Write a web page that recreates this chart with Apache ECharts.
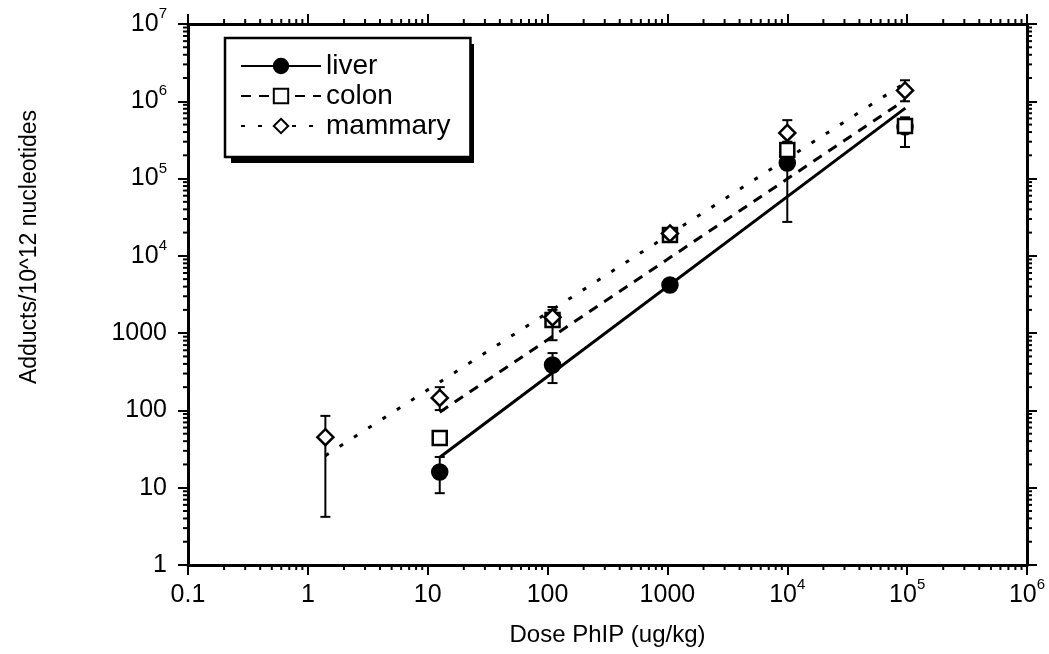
<!DOCTYPE html>
<html>
<head>
<meta charset="utf-8">
<script src="https://cdn.jsdelivr.net/npm/echarts@6/dist/echarts.min.js"></script>
<style>
  html, body { margin: 0; padding: 0; background: #fff; }
  #chart { width: 1049px; height: 654px; }
</style>
</head>
<body>
<div id="chart"></div>
<script>
// dose (ug/kg) and adducts per 10^12 nucleotides
const liverDose = [12.6, 110, 1050, 10000, 96000];
const liverValue = [16, 387, 4200, 159000, 466000];
const liverLow = [8.5, 226, 3800, 27500, 256000];
const liverHigh = [25, 552, 4600, 250000, 600000];

const colonDose = [12.6, 110, 1050, 10000, 96000];
const colonValue = [44, 1480, 18600, 234000, 480000];
const colonLow = [41, 810, 16000, 215000, 256000];
const colonHigh = [47, 2180, 21500, 255000, 620000];

const mammaryDose = [1.4, 12.6, 110, 1050, 10000, 96000];
const mammaryValue = [45, 145, 1600, 19500, 390000, 1380000];
const mammaryLow = [4.2, 101, 1300, 17000, 300000, 1000000];
const mammaryHigh = [85, 200, 2000, 22000, 570000, 1870000];

// fitted lines (end points)
const liverFitX = [12.7, 96600];
const liverFitY = [25, 815000];
const colonFitX = [12.6, 96600];
const colonFitY = [95, 1050000];
const mammaryFitX = [1.4, 96600];
const mammaryFitY = [26, 1740000];

// axis ranges and minor tick steps
const xRange = [0.1, 1e6];
const yRange = [1, 1e7];
const minorSteps = [2, 3, 4, 5, 6, 7, 8, 9];

const FONT = "'Liberation Sans', Arial, Helvetica, sans-serif";

function zip(xs, ys) {
  return xs.map((x, i) => [x, ys[i]]);
}
function zip3(xs, lo, hi) {
  return xs.map((x, i) => [x, lo[i], hi[i]]);
}

// minor ticks at 2..9 x 10^k for all four sides
const minorTickData = [];
for (let d = xRange[0]; d < xRange[1] * 0.99; d *= 10) {
  minorSteps.forEach(s => minorTickData.push([d * s, yRange[0], 0]));
}
for (let d = yRange[0]; d < yRange[1] * 0.99; d *= 10) {
  minorSteps.forEach(s => minorTickData.push([xRange[0], d * s, 1]));
}

function tickLabel(value) {
  const e = Math.round(Math.log10(value));
  if (e >= 4) return '{b|10}{s|' + e + '}';
  if (e < 0) return '{b|0.1}';
  return '{b|' + Math.pow(10, e) + '}';
}
const labelRich = {
  b: { fontSize: 25, lineHeight: 30, fontFamily: FONT, color: '#000' },
  s: { fontSize: 15, lineHeight: 30, fontFamily: FONT, color: '#000', padding: [0, 0, 20, 0] }
};

function minorTickItem(params, api) {
  const v0 = api.value(0), v1 = api.value(1), kind = api.value(2);
  const len = 5;
  const style = { stroke: '#000', lineWidth: 2 };
  if (kind === 0) {
    const b = api.coord([v0, yRange[0]]);
    const t = api.coord([v0, yRange[1]]);
    return { type: 'group', children: [
      { type: 'line', shape: { x1: b[0], y1: b[1], x2: b[0], y2: b[1] + len }, style },
      { type: 'line', shape: { x1: t[0], y1: t[1], x2: t[0], y2: t[1] - len }, style }
    ] };
  }
  const l = api.coord([xRange[0], v1]);
  const r = api.coord([xRange[1], v1]);
  return { type: 'group', children: [
    { type: 'line', shape: { x1: l[0], y1: l[1], x2: l[0] - len, y2: l[1] }, style },
    { type: 'line', shape: { x1: r[0], y1: r[1], x2: r[0] + len, y2: r[1] }, style }
  ] };
}

function errorBarItem(params, api) {
  const x = api.value(0);
  const lo = api.coord([x, api.value(1)]);
  const hi = api.coord([x, api.value(2)]);
  const w = 5;
  const style = { stroke: '#000', lineWidth: 2 };
  return { type: 'group', children: [
    { type: 'line', shape: { x1: lo[0], y1: lo[1], x2: hi[0], y2: hi[1] }, style },
    { type: 'line', shape: { x1: lo[0] - w, y1: lo[1], x2: lo[0] + w, y2: lo[1] }, style },
    { type: 'line', shape: { x1: hi[0] - w, y1: hi[1], x2: hi[0] + w, y2: hi[1] }, style }
  ] };
}

function errSeries(name, data) {
  return {
    name: name, type: 'custom', renderItem: errorBarItem, data: data,
    encode: { x: 0, y: [1, 2] }, z: 2, silent: true, clip: false
  };
}

function fitSeries(name, data, symbol, fill, dash) {
  return {
    name: name, type: 'line', data: data, z: 3,
    symbol: symbol, symbolSize: 14, showSymbol: false,
    lineStyle: { color: '#000', width: 3, type: dash },
    itemStyle: { color: fill, borderColor: '#000', borderWidth: 2.5 },
    silent: true
  };
}

function pointSeries(name, data, symbol, size, fill) {
  return {
    name: name, type: 'scatter', data: data, z: 4,
    symbol: symbol, symbolSize: size,
    itemStyle: { color: fill, borderColor: '#000', borderWidth: 2.5, opacity: 1 },
    silent: true
  };
}

const axisLineStyle = { lineStyle: { color: '#000', width: 3 } };
const axisTickStyle = { inside: false, length: 10, lineStyle: { color: '#000', width: 2 } };

const chartOpts = {
  animation: false,
  backgroundColor: '#fff',
  grid: { left: 188, right: 22, top: 24, bottom: 89 },
  legend: {
    data: ['liver', 'colon', 'mammary'],
    orient: 'vertical',
    left: 225, top: 38,
    itemWidth: 80, itemHeight: 18, itemGap: 2,
    padding: [14, 20, 17, 15],
    backgroundColor: '#fff',
    borderColor: '#000', borderWidth: 2.5,
    selectedMode: false,
    z: 6,
    textStyle: { fontSize: 28, color: '#000', fontFamily: FONT }
  },
  xAxis: [
    {
      type: 'log', logBase: 10, min: xRange[0], max: xRange[1], splitNumber: 7,
      name: 'Dose PhIP (ug/kg)', nameLocation: 'middle', nameGap: 58,
      nameTextStyle: { fontSize: 24, color: '#000', fontFamily: FONT },
      axisLine: axisLineStyle,
      axisTick: axisTickStyle,
      axisLabel: { margin: 15, formatter: tickLabel, rich: labelRich, showMinLabel: true, showMaxLabel: true },
      splitLine: { show: false }
    },
    {
      type: 'log', logBase: 10, min: xRange[0], max: xRange[1], splitNumber: 7, position: 'top',
      axisLine: axisLineStyle,
      axisTick: axisTickStyle,
      axisLabel: { show: false },
      splitLine: { show: false }
    }
  ],
  yAxis: [
    {
      type: 'log', logBase: 10, min: yRange[0], max: yRange[1], splitNumber: 7,
      axisLine: axisLineStyle,
      axisTick: axisTickStyle,
      axisLabel: { margin: 21, formatter: tickLabel, rich: labelRich, showMinLabel: true, showMaxLabel: true },
      splitLine: { show: false }
    },
    {
      type: 'log', logBase: 10, min: yRange[0], max: yRange[1], splitNumber: 7, position: 'right',
      axisLine: axisLineStyle,
      axisTick: axisTickStyle,
      axisLabel: { show: false },
      splitLine: { show: false }
    }
  ],
  graphic: [
    {
      // drop shadow behind the legend box
      type: 'rect', z: 5, silent: true,
      shape: { x: 231, y: 44, width: 243, height: 119 },
      style: { fill: '#000' }
    },
    {
      type: 'text', x: 30, y: 247, rotation: Math.PI / 2,
      style: {
        text: 'Adducts/10^12 nucleotides', fill: '#000',
        font: '23px ' + FONT, textAlign: 'center', textVerticalAlign: 'middle'
      }
    }
  ],
  series: [
    fitSeries('liver', zip(liverFitX, liverFitY), 'circle', '#000', 'solid'),
    fitSeries('colon', zip(colonFitX, colonFitY), 'rect', '#fff', [10, 8]),
    fitSeries('mammary', zip(mammaryFitX, mammaryFitY), 'diamond', '#fff', [4, 13]),
    {
      name: 'minorTicks', type: 'custom', renderItem: minorTickItem, data: minorTickData,
      encode: { x: 0, y: 1 }, z: 5, silent: true, clip: false
    },
    errSeries('liverErr', zip3(liverDose, liverLow, liverHigh)),
    errSeries('colonErr', zip3(colonDose, colonLow, colonHigh)),
    errSeries('mammaryErr', zip3(mammaryDose, mammaryLow, mammaryHigh)),
    pointSeries('liverPts', zip(liverDose, liverValue), 'circle', 15, '#000'),
    pointSeries('colonPts', zip(colonDose, colonValue), 'rect', 14, '#fff'),
    pointSeries('mammaryPts', zip(mammaryDose, mammaryValue), 'diamond', 16, '#fff')
  ]
};

const chart = echarts.init(document.getElementById('chart'));
chart.setOption(chartOpts);
</script>
</body>
</html>
